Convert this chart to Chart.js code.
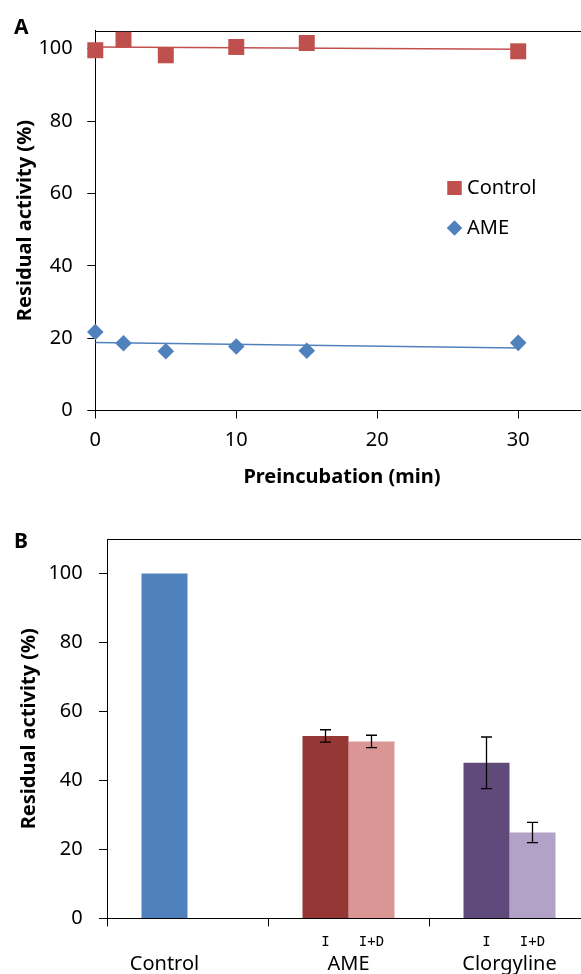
<!DOCTYPE html>
<html><head><meta charset="utf-8">
<script src="https://cdn.jsdelivr.net/npm/chart.js@4.4.0/dist/chart.umd.min.js"></script>
<style>
html,body{margin:0;padding:0;width:581px;height:974px;overflow:hidden;background:#fff;}
#wrapA{position:absolute;left:0;top:0;width:600px;height:500px;}
#wrapB{position:absolute;left:0;top:500px;width:600px;height:474px;}
canvas{display:block;}
</style></head><body>
<div id="wrapA"><canvas id="chartA" width="600" height="500"></canvas></div>
<div id="wrapB"><canvas id="chartB" width="600" height="474"></canvas></div>
<script>
// ---- Panel A data ----
const timeMin = [0, 2, 5, 10, 15, 30];
const controlActivity = [99.6, 102.5, 98.2, 100.5, 101.6, 99.3];
const ameActivity = [21.7, 18.6, 16.4, 17.7, 16.5, 18.7];
const trendX = [0, 30];
const controlTrend = [100.5, 99.9];
const ameTrend = [18.8, 17.3];
const xTicksA = [0, 10, 20, 30];
const yTicksA = [0, 20, 40, 60, 80, 100];
const seriesNamesA = ['Control', 'AME'];

// ---- Panel B data ----
const groups = ['Control', 'AME', 'Clorgyline'];
const subLabels = [[], ['I', 'I+D'], ['I', 'I+D']];
const valuesI = [100, 52.9, 45.1];
const valuesID = [null, 51.3, 24.9];
const errI = [null, 1.8, 7.5];
const errID = [null, 1.8, 2.95];
const yTicksB = [0, 20, 40, 60, 80, 100];

const FONT = "'Noto Sans', sans-serif";
const RED = '#C0504D', BLUE = '#4F81BD';

Chart.defaults.animation = false;
Chart.defaults.font.family = FONT;
Chart.defaults.color = '#000';

const framePlugin = {
  id: 'frame',
  beforeDatasetsDraw(chart) {
    const {ctx, chartArea: a} = chart;
    ctx.save();
    ctx.strokeStyle = '#000'; ctx.lineWidth = 1;
    ctx.beginPath();
    ctx.moveTo(a.left, Math.round(a.top) + 0.5);
    ctx.lineTo(a.right, Math.round(a.top) + 0.5);
    ctx.lineTo(a.right, a.bottom);
    ctx.stroke();
    ctx.restore();
  }
};

const panelLabel = (text, x, y) => ({
  id: 'panel' + text,
  afterDraw(chart) {
    const ctx = chart.ctx;
    ctx.save();
    ctx.font = "bold 21px " + FONT;
    ctx.fillStyle = '#000';
    ctx.textBaseline = 'alphabetic';
    ctx.fillText(text, x, y);
    ctx.restore();
  }
});

const legendA = {
  id: 'legendA',
  afterDraw(chart) {
    const ctx = chart.ctx;
    const items = [
      {style: 'rect', radius: 9.9, color: RED, y: 188},
      {style: 'rectRot', radius: 7.5, color: BLUE, y: 228}
    ];
    ctx.save();
    items.forEach((it, i) => {
      ctx.fillStyle = it.color; ctx.strokeStyle = it.color;
      Chart.helpers.drawPoint(ctx, {pointStyle: it.style, radius: it.radius, rotation: 0, borderWidth: 0}, 454.5, it.y);
      ctx.fill();
      ctx.fillStyle = '#000';
      ctx.font = "20px " + FONT;
      ctx.textBaseline = 'middle';
      ctx.textAlign = 'left';
      ctx.fillText(seriesNamesA[i], 467, it.y);
    });
    ctx.restore();
  }
};

const tickFont = {family: FONT, size: 20};
const titleFont = {family: FONT, size: 20, weight: 'bold'};

new Chart(document.getElementById('chartA'), {
  type: 'scatter',
  data: {
    datasets: [
      {label: 'Control', data: timeMin.map((t, i) => ({x: t, y: controlActivity[i]})),
       pointStyle: 'rect', pointRadius: 11.3, backgroundColor: RED, borderColor: RED, borderWidth: 0, clip: false, order: 1},
      {label: 'AME', data: timeMin.map((t, i) => ({x: t, y: ameActivity[i]})),
       pointStyle: 'rectRot', pointRadius: 8.3, backgroundColor: BLUE, borderColor: BLUE, borderWidth: 0, clip: false, order: 1},
      {label: 'ControlTrend', data: trendX.map((t, i) => ({x: t, y: controlTrend[i]})),
       showLine: true, pointRadius: 0, borderColor: RED, borderWidth: 1.5, order: 2},
      {label: 'AMETrend', data: trendX.map((t, i) => ({x: t, y: ameTrend[i]})),
       showLine: true, pointRadius: 0, borderColor: BLUE, borderWidth: 1.5, order: 2}
    ]
  },
  options: {
    responsive: false,
    layout: {padding: {top: 30.7, right: 10, left: 0, bottom: 0}},
    plugins: {legend: {display: false}, tooltip: {enabled: false}},
    scales: {
      x: {
        type: 'linear', min: 0, max: 35,
        afterBuildTicks: s => { s.ticks = xTicksA.map(v => ({value: v})); },
        ticks: {padding: 10, font: tickFont, color: '#000'},
        grid: {drawOnChartArea: false, drawTicks: true, tickLength: 8, color: '#000', lineWidth: 1},
        border: {display: true, color: '#000', width: 1},
        title: {display: true, text: 'Preincubation (min)', font: titleFont, color: '#000', padding: {top: 0, bottom: 11}},
        afterFit: s => { s.height = 89.5; }
      },
      y: {
        type: 'linear', min: 0, max: 105,
        afterBuildTicks: s => { s.ticks = yTicksA.map(v => ({value: v})); },
        ticks: {padding: 14.6, font: tickFont, color: '#000'},
        grid: {drawOnChartArea: false, drawTicks: true, tickLength: 8, color: '#000', lineWidth: 1},
        border: {display: true, color: '#000', width: 1},
        title: {display: true, text: 'Residual activity (%)', font: titleFont, color: '#000', padding: {top: 13, bottom: 0}},
        afterFit: s => { s.width = 95.3; }
      }
    }
  },
  plugins: [framePlugin, legendA, panelLabel('A', 14, 33.5)]
});

const barColorsI = ['#4F81BD', '#953735', '#604A7B'];
const barColorsID = ['#4F81BD', '#D99694', '#B3A2C7'];

const errorBars = {
  id: 'errorBars',
  afterDatasetsDraw(chart) {
    const ctx = chart.ctx, y = chart.scales.y;
    const sets = [[valuesI, errI], [valuesID, errID]];
    ctx.save();
    ctx.strokeStyle = '#000'; ctx.lineWidth = 1.3;
    sets.forEach(([vals, errs], d) => {
      const meta = chart.getDatasetMeta(d);
      vals.forEach((v, i) => {
        if (v == null || errs[i] == null) return;
        const x = meta.data[i].x;
        const yt = y.getPixelForValue(v + errs[i]), yb = y.getPixelForValue(v - errs[i]);
        ctx.beginPath();
        ctx.moveTo(x, yt); ctx.lineTo(x, yb);
        ctx.moveTo(x - 5.5, yt); ctx.lineTo(x + 5.5, yt);
        ctx.moveTo(x - 5.5, yb); ctx.lineTo(x + 5.5, yb);
        ctx.stroke();
      });
    });
    ctx.restore();
  }
};

const xLabelsB = {
  id: 'xLabelsB',
  afterDraw(chart) {
    const ctx = chart.ctx;
    const metas = [chart.getDatasetMeta(0), chart.getDatasetMeta(1)];
    const vals = [valuesI, valuesID];
    ctx.save();
    ctx.fillStyle = '#000';
    ctx.textAlign = 'center';
    ctx.textBaseline = 'middle';
    groups.forEach((g, i) => {
      const xs = [];
      metas.forEach((m, d) => { if (vals[d][i] != null) xs.push(m.data[i].x); });
      const cx = xs.reduce((a, b) => a + b, 0) / xs.length;
      ctx.font = "20px " + FONT;
      ctx.fillText(g, cx, 464);
      ctx.font = "14px 'DejaVu Sans Mono', monospace";
      subLabels[i].forEach((s, d) => {
        ctx.fillText(s, metas[d].data[i].x, 442);
      });
    });
    ctx.restore();
  }
};

new Chart(document.getElementById('chartB'), {
  type: 'bar',
  data: {
    labels: groups,
    datasets: [
      {label: 'I', data: valuesI, backgroundColor: barColorsI, borderWidth: 0},
      {label: 'I+D', data: valuesID, backgroundColor: barColorsID, borderWidth: 0}
    ]
  },
  options: {
    responsive: false,
    categoryPercentage: 0.5714,
    barPercentage: 1,
    layout: {padding: {top: 39, right: 10, left: 0, bottom: 0}},
    plugins: {legend: {display: false}, tooltip: {enabled: false}},
    scales: {
      x: {
        ticks: {display: false},
        grid: {drawOnChartArea: false, drawTicks: true, tickLength: 8, color: '#000', lineWidth: 1, offset: true},
        border: {display: true, color: '#000', width: 1},
        afterFit: s => { s.height = 474 - 418.4; }
      },
      y: {
        type: 'linear', min: 0, max: 110,
        afterBuildTicks: s => { s.ticks = yTicksB.map(v => ({value: v})); },
        ticks: {padding: 16.3, font: tickFont, color: '#000'},
        grid: {drawOnChartArea: false, drawTicks: true, tickLength: 8, color: '#000', lineWidth: 1},
        border: {display: true, color: '#000', width: 1},
        title: {display: true, text: 'Residual activity (%)', font: titleFont, color: '#000', padding: {top: 17.7, bottom: 0}},
        afterFit: s => { s.width = 107; }
      }
    }
  },
  plugins: [framePlugin, errorBars, xLabelsB, panelLabel('B', 14, 48.3)]
});
</script>
</body></html>
